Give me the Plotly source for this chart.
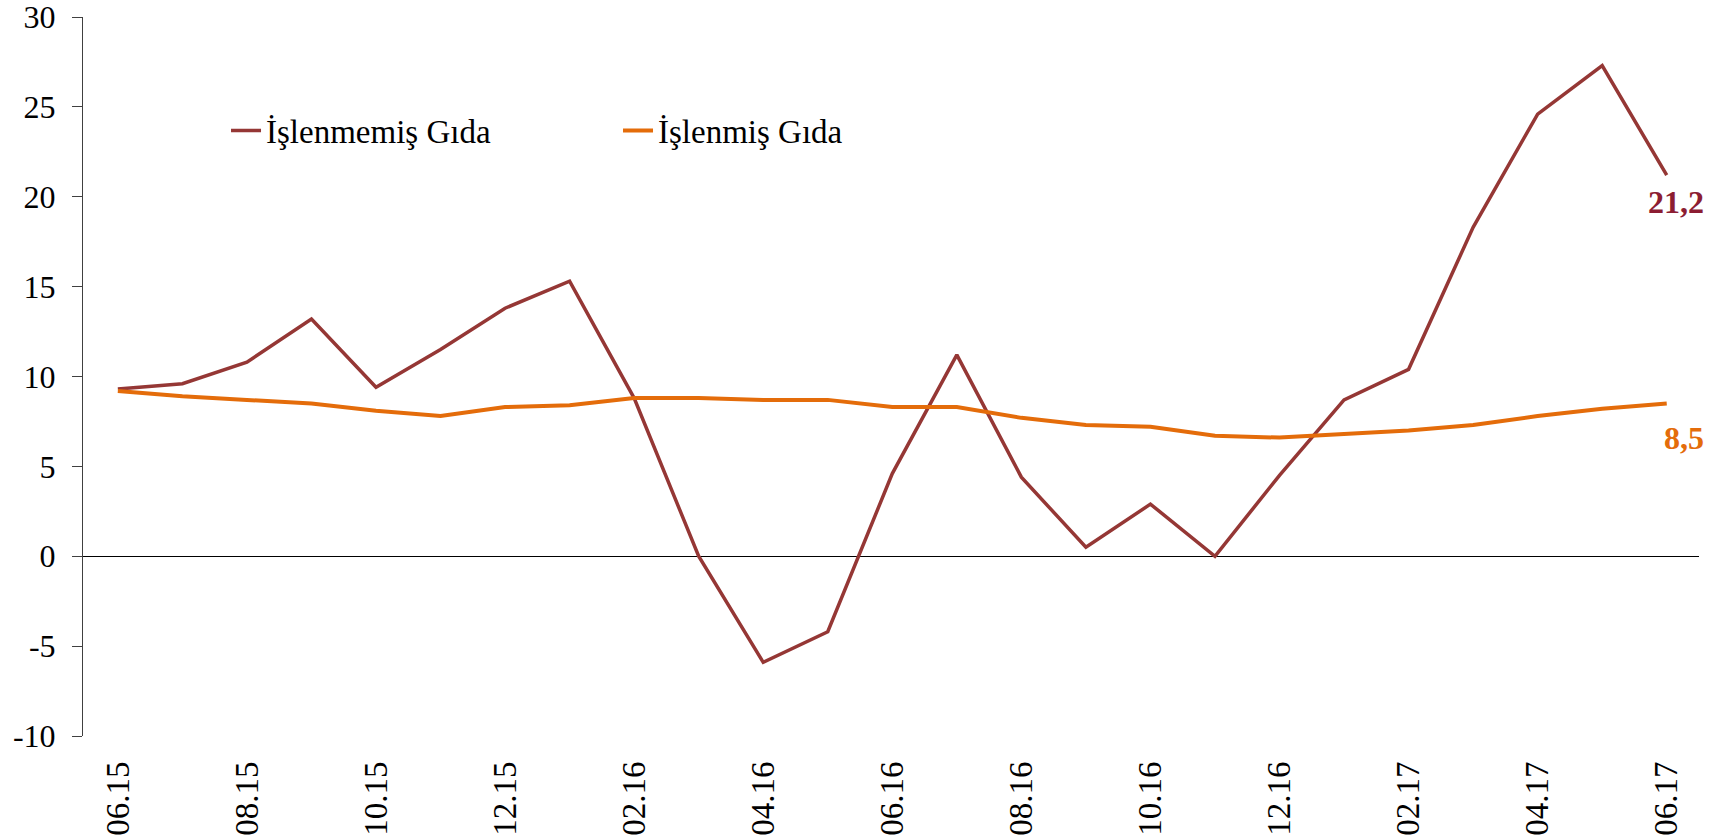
import plotly.graph_objects as go

months = ["06.15", "07.15", "08.15", "09.15", "10.15", "11.15", "12.15", "01.16",
          "02.16", "03.16", "04.16", "05.16", "06.16", "07.16", "08.16", "09.16",
          "10.16", "11.16", "12.16", "01.17", "02.17", "03.17", "04.17", "05.17", "06.17"]
islenmemis = [9.3, 9.6, 10.8, 13.2, 9.4, 11.5, 13.8, 15.3, 8.8, 0.0, -5.9, -4.2, 4.6,
              11.2, 4.4, 0.5, 2.9, 0.0, 4.5, 8.7, 10.4, 18.3, 24.6, 27.3, 21.2]
islenmis = [9.2, 8.9, 8.7, 8.5, 8.1, 7.8, 8.3, 8.4, 8.8, 8.8, 8.7, 8.7, 8.3, 8.3,
            7.7, 7.3, 7.2, 6.7, 6.6, 6.8, 7.0, 7.3, 7.8, 8.2, 8.5]
series_names = ["İşlenmemiş Gıda", "İşlenmiş Gıda"]
tick_labels = months[::2]
y_ticks = [-10, -5, 0, 5, 10, 15, 20, 25, 30]
y_tick_labels = ["-10", "-5", "0", "5", "10", "15", "20", "25", "30"]

RED = "#953735"
ORANGE = "#E46C0A"
LABEL_RED = "#8C1D32"
FONT = "Liberation Serif"

x = list(range(len(months)))

fig = go.Figure()
fig.add_trace(go.Scatter(x=x, y=islenmemis, mode="lines", name=series_names[0],
                         line=dict(color=RED, width=3.5)))
fig.add_trace(go.Scatter(x=x, y=islenmis, mode="lines", name=series_names[1],
                         line=dict(color=ORANGE, width=4)))

def fmt(v):
    return f"{v:.1f}".replace(".", ",")

fig.add_annotation(x=x[-1], y=islenmemis[-1], text=f"<b>{fmt(islenmemis[-1])}</b>",
                   showarrow=False, xanchor="right", yanchor="middle",
                   xshift=39, yshift=-27, font=dict(family=FONT, size=32, color=LABEL_RED))
fig.add_annotation(x=x[-1], y=islenmis[-1], text=f"<b>{fmt(islenmis[-1])}</b>",
                   showarrow=False, xanchor="right", yanchor="middle",
                   xshift=39, yshift=-35, font=dict(family=FONT, size=32, color=ORANGE))

fig.update_layout(
    width=1723, height=839,
    margin=dict(l=83, r=24, t=17, b=103),
    paper_bgcolor="white", plot_bgcolor="white",
    font=dict(family=FONT, size=33, color="black"),
    showlegend=True,
    legend=dict(orientation="h", x=0.0885, y=0.842, xanchor="left", yanchor="middle",
                font=dict(family=FONT, size=33, color="black"),
                entrywidth=347, entrywidthmode="pixels",
                bgcolor="rgba(0,0,0,0)", borderwidth=0),
    xaxis=dict(range=[-0.54, 24.5], tickmode="array", tickvals=x[::2], ticktext=tick_labels,
               tickangle=-90, showgrid=False, zeroline=False, showline=False, ticks="",
               automargin=False, ticklabeloverflow="allow",
               ticklabelstandoff=18, tickfont=dict(family=FONT, size=33, color="black")),
    yaxis=dict(range=[-10, 30.001], tickmode="array", tickvals=y_ticks, ticktext=y_tick_labels,
               showgrid=False, automargin=False, ticklabeloverflow="allow",
               zeroline=True, zerolinecolor="black", zerolinewidth=1,
               showline=True, linecolor="#404040", linewidth=1,
               ticks="outside", ticklen=10, tickcolor="#404040", tickwidth=1,
               ticklabelstandoff=10, tickfont=dict(family=FONT, size=32, color="black")),
)

fig.write_html("out.html", config={"displayModeBar": False},
               post_script="document.body.style.margin='0';document.body.style.overflow='hidden';")
